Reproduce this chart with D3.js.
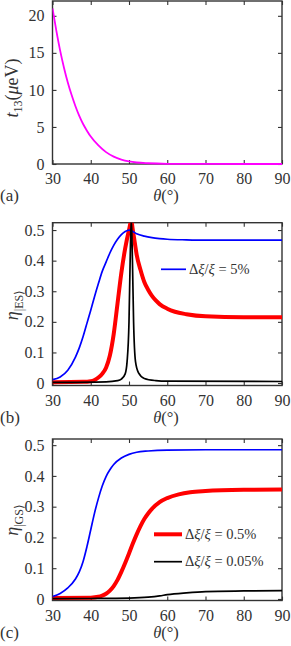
<!DOCTYPE html>
<html>
<head>
<meta charset="utf-8">
<script src="https://cdn.jsdelivr.net/npm/d3@7"></script>
<style>
  body { margin: 0; background: #fff; }
</style>
</head>
<body>
<svg id="chart" width="291" height="646"></svg>
<script>
// theta ticks shared by all panels
var thetaTicks = [30, 40, 50, 60, 70, 80, 90];

// (a) t13 in micro eV
var t13Theta = [30, 31, 32, 33, 34, 35, 36, 37, 38, 39, 40, 42, 44, 46, 48, 50, 52, 55, 60, 70, 80, 90];
var t13Vals  = [21, 18, 15.3, 13, 11, 9.3, 7.8, 6.5, 5.4, 4.5, 3.7, 2.5, 1.6, 1.0, 0.6, 0.35, 0.2, 0.1, 0.03, 0.005, 0, 0];
var t13Ticks = [0, 5, 10, 15, 20];

// (b) eta |ES>
var esBlueTheta = [30, 32, 34, 36, 37, 38, 39, 40, 41, 42, 43, 44, 45, 46, 47, 48, 49, 50, 51, 52, 54, 56, 58, 60, 65, 70, 90];
var esBlueVals  = [0.011, 0.02, 0.042, 0.085, 0.115, 0.152, 0.195, 0.238, 0.283, 0.325, 0.365, 0.395, 0.425, 0.45, 0.47, 0.485, 0.495, 0.5, 0.495, 0.488, 0.48, 0.475, 0.472, 0.47, 0.468, 0.467, 0.467];
var esRedTheta = [30, 38, 40, 41, 42, 43, 44, 45, 46, 47, 48, 49, 50, 50.6, 51, 51.5, 52, 53, 54, 55, 56, 57, 58, 60, 62, 65, 70, 80, 90];
var esRedVals  = [0.003, 0.004, 0.006, 0.01, 0.018, 0.03, 0.05, 0.09, 0.16, 0.26, 0.36, 0.44, 0.5, 0.53, 0.5, 0.46, 0.42, 0.37, 0.33, 0.305, 0.285, 0.27, 0.258, 0.243, 0.233, 0.225, 0.218, 0.215, 0.215];
var esBlackTheta = [30, 44, 47, 48, 49, 49.5, 50, 50.3, 50.6, 50.9, 51.2, 51.7, 52.5, 54, 57, 60, 90];
var esBlackVals  = [0.002, 0.004, 0.008, 0.013, 0.03, 0.07, 0.2, 0.4, 0.54, 0.4, 0.2, 0.07, 0.033, 0.015, 0.008, 0.006, 0.005];

// (c) eta |GS>
var gsBlueTheta = [30, 32, 34, 36, 37, 38, 39, 40, 41, 42, 43, 44, 45, 46, 48, 50, 52, 55, 60, 70, 90];
var gsBlueVals  = [0.008, 0.018, 0.036, 0.065, 0.088, 0.122, 0.17, 0.225, 0.28, 0.327, 0.367, 0.398, 0.42, 0.437, 0.458, 0.47, 0.477, 0.481, 0.484, 0.485, 0.485];
var gsRedTheta = [30, 40, 42, 43, 44, 45, 46, 47, 48, 49, 50, 51, 52, 53, 54, 55, 56, 58, 60, 63, 66, 70, 80, 90];
var gsRedVals  = [0.003, 0.004, 0.007, 0.011, 0.017, 0.027, 0.042, 0.062, 0.088, 0.117, 0.148, 0.18, 0.21, 0.237, 0.26, 0.278, 0.293, 0.315, 0.328, 0.34, 0.347, 0.351, 0.355, 0.356];
var gsBlackTheta = [30, 40, 50, 55, 58, 60, 65, 70, 80, 90];
var gsBlackVals  = [0.001, 0.0015, 0.003, 0.006, 0.01, 0.014, 0.02, 0.024, 0.026, 0.027];

var etaTicks = [0, 0.1, 0.2, 0.3, 0.4, 0.5];
var etaTickLabels = ["0", "0.1", "0.2", "0.3", "0.4", "0.5"];

var FONT = 'Liberation Serif';
var svg = d3.select('#chart');
var left = 52.5, right = 282;
var x = d3.scaleLinear().domain([30, 90]).range([left, right]);

function zip(xs, ys){ return xs.map(function(v, i){ return [v, ys[i]]; }); }

function panel(opts){
    var y = d3.scaleLinear().domain(opts.ydom).range([opts.bottom, opts.top]);
    var g = svg.append('g');
    var id = 'clip' + opts.name;
    g.append('clipPath').attr('id', id).append('rect')
        .attr('x', left).attr('y', opts.top).attr('width', right - left).attr('height', opts.bottom - opts.top + 2);

    // axes with inward ticks on all four sides
    var tl = 4;
    g.append('g').attr('transform', 'translate(0,' + opts.bottom + ')')
        .call(d3.axisBottom(x).tickValues(thetaTicks).tickSizeInner(-tl).tickSizeOuter(0).tickPadding(9));
    g.append('g').attr('transform', 'translate(0,' + opts.top + ')')
        .call(d3.axisTop(x).tickValues(thetaTicks).tickSizeInner(-tl).tickSizeOuter(0).tickFormat(''));
    g.append('g').attr('transform', 'translate(' + left + ',0)')
        .call(d3.axisLeft(y).tickValues(opts.yticks).tickSizeInner(-tl).tickSizeOuter(0).tickPadding(8)
            .tickFormat(function(d, i){ return opts.ylabels[i]; }));
    g.append('g').attr('transform', 'translate(' + right + ',0)')
        .call(d3.axisRight(y).tickValues(opts.yticks).tickSizeInner(-tl).tickSizeOuter(0).tickFormat(''));
    g.selectAll('.domain').remove();
    g.selectAll('g').attr('font-family', null).attr('font-size', null);
    g.selectAll('.tick line').attr('stroke', '#333').attr('stroke-width', 1.1);
    g.selectAll('.tick text').attr('font-size', 16);
    g.append('rect').attr('x', left).attr('y', opts.top).attr('width', right - left).attr('height', opts.bottom - opts.top)
        .attr('fill', 'none').attr('stroke', '#333').attr('stroke-width', 1.4);

    // curves on top of the frame
    var line = d3.line().x(function(d){ return x(d[0]); }).y(function(d){ return y(d[1]); }).curve(d3.curveMonotoneX);
    opts.series.forEach(function(s){
        g.append('path').attr('clip-path', 'url(#' + id + ')')
            .attr('d', line(zip(s.xs, s.ys)))
            .attr('fill', 'none').attr('stroke', s.color).attr('stroke-width', s.width)
            .attr('stroke-linejoin', 'round');
    });

    // x label
    var xl = g.append('text').attr('x', 166).attr('y', opts.bottom + 37).attr('text-anchor', 'middle').attr('font-size', 16.5);
    xl.append('tspan').attr('font-style', 'italic').text('θ');
    xl.append('tspan').text('(°)');
    // panel tag
    g.append('text').attr('x', 0).attr('y', opts.bottom + 37).attr('font-size', 17).text(opts.tag);

    // y label
    var yl = g.append('text').attr('transform', 'translate(' + 18 + ',' + opts.ymid + ') rotate(-90)')
        .attr('text-anchor', 'middle').attr('font-size', 18);
    opts.ylabel(yl);

    (opts.legend || []).forEach(function(l){
        g.append('line').attr('x1', l.x1).attr('x2', l.x2).attr('y1', l.y).attr('y2', l.y)
            .attr('stroke', l.color).attr('stroke-width', l.width);
        var t = g.append('text').attr('x', l.x2 + 3).attr('y', l.y + 4.5).attr('font-size', 14.5);
        t.append('tspan').text('Δ');
        t.append('tspan').attr('font-style', 'italic').text('ξ');
        t.append('tspan').text('/');
        t.append('tspan').attr('font-style', 'italic').text('ξ');
        t.append('tspan').text(' = ' + l.label);
    });

    g.selectAll('text').attr('font-family', FONT).attr('fill', '#333');
}

panel({
    name: 'a', tag: '(a)', top: 1, bottom: 164, ydom: [0, 22], yticks: t13Ticks,
    ylabels: t13Ticks.map(String), ymid: 88,
    series: [{xs: t13Theta, ys: t13Vals, color: '#ff00ff', width: 1.8}],
    ylabel: function(t){
        t.append('tspan').attr('font-style', 'italic').text('t');
        t.append('tspan').attr('dy', 4).attr('font-size', 12).text('13');
        t.append('tspan').attr('dy', -4).text('(');
        t.append('tspan').attr('font-style', 'italic').text('μ');
        t.append('tspan').text('eV)');
    }
});

panel({
    name: 'b', tag: '(b)', top: 222.7, bottom: 385.5, ydom: [-0.008, 0.524], yticks: etaTicks,
    ylabels: etaTickLabels, ymid: 305,
    series: [
        {xs: esRedTheta, ys: esRedVals, color: '#ff0000', width: 4},
        {xs: esBlueTheta, ys: esBlueVals, color: '#0000ff', width: 1.7},
        {xs: esBlackTheta, ys: esBlackVals, color: '#000', width: 1.7}
    ],
    legend: [{x1: 161, x2: 186, y: 269.3, color: '#0000ff', width: 1.7, label: '5%'}],
    ylabel: function(t){
        t.append('tspan').attr('font-style', 'italic').text('η');
        t.append('tspan').attr('dy', 5).attr('font-size', 12).text('|ES⟩');
    }
});

panel({
    name: 'c', tag: '(c)', top: 439, bottom: 600.5, ydom: [-0.005, 0.52], yticks: etaTicks,
    ylabels: etaTickLabels, ymid: 520,
    series: [
        {xs: gsRedTheta, ys: gsRedVals, color: '#ff0000', width: 4},
        {xs: gsBlueTheta, ys: gsBlueVals, color: '#0000ff', width: 1.7},
        {xs: gsBlackTheta, ys: gsBlackVals, color: '#000', width: 1.7}
    ],
    legend: [
        {x1: 154, x2: 182, y: 534.3, color: '#ff0000', width: 4, label: '0.5%'},
        {x1: 154, x2: 182, y: 561.7, color: '#000', width: 1.7, label: '0.05%'}
    ],
    ylabel: function(t){
        t.append('tspan').attr('font-style', 'italic').text('η');
        t.append('tspan').attr('dy', 5).attr('font-size', 12).text('|GS⟩');
    }
});
</script>
</body>
</html>
